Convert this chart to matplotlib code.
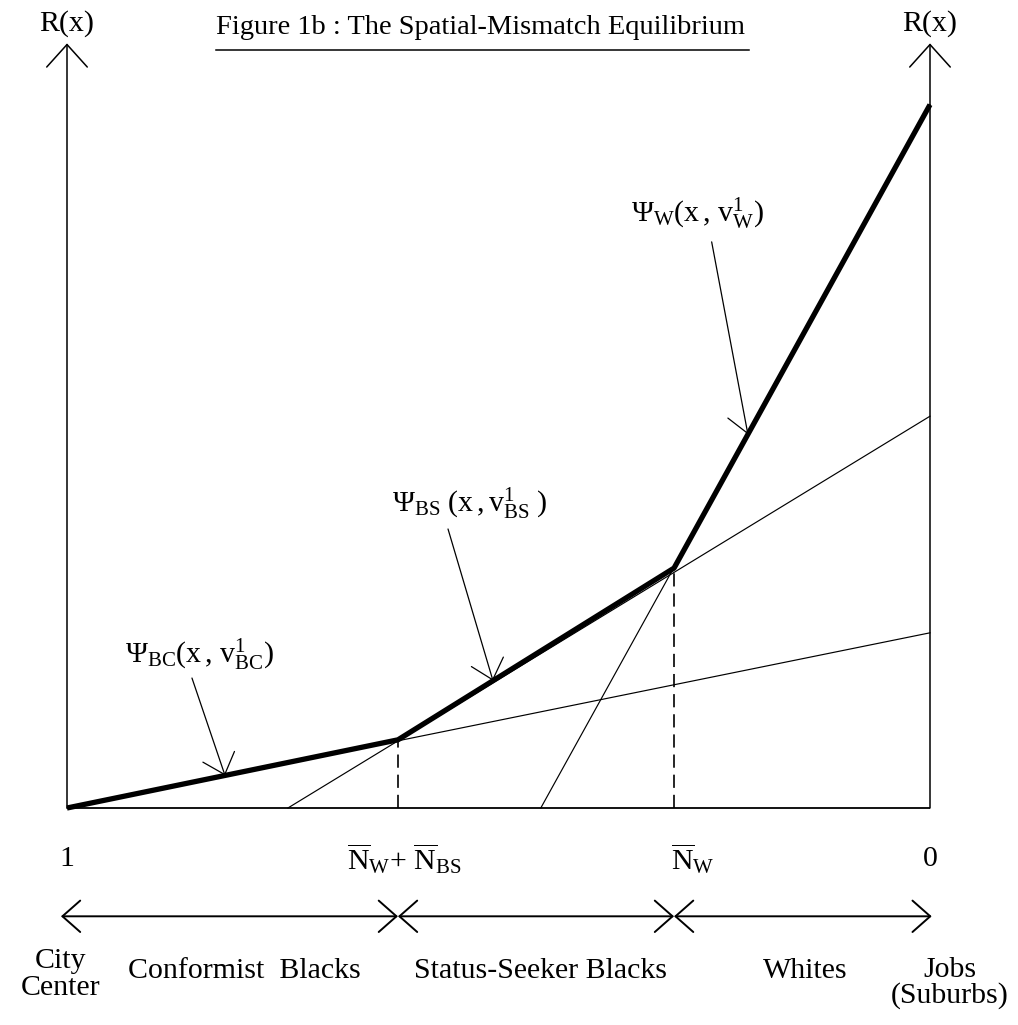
import numpy as np
import matplotlib
matplotlib.use("Agg")
import matplotlib.pyplot as plt

# ---------------- data ----------------
# horizontal position: 0 = city centre (label "1"), 1 = jobs / suburbs (label "0")
bc_x = [0.0, 1.0]          # conformist blacks bid-rent line
bc_R = [0.0, 0.203]
bs_x = [0.256, 1.0]        # status-seeker blacks bid-rent line
bs_R = [0.0, 0.454]
w_x = [0.549, 1.0]         # whites bid-rent line
w_R = [0.0, 0.815]
eq_x = [0.0, 0.3835, 0.7034, 1.0]   # equilibrium land-rent envelope
eq_R = [0.0, 0.079, 0.278, 0.815]

tick_pos = [0.0, 0.3905, 0.7245, 1.0]
tick_labels = ["1",
               r"$\overline{\mathrm{N}}_{\mathrm{W}}$+ $\overline{\mathrm{N}}_{\mathrm{BS}}$",
               r"$\overline{\mathrm{N}}_{\mathrm{W}}$",
               "0"]
region_pos = [0.205, 0.549, 0.855]
region_labels = ["Conformist  Blacks", "Status-Seeker Blacks", "Whites"]
end_labels = ["City\nCenter", "Jobs\n(Suburbs)"]
end_pos = [(-0.008, -0.217), (1.023, -0.226)]
end_spacing = [1.08, 0.95]

curve_labels = [r"$\Psi_{\mathrm{BC}}(\mathrm{x}\,,\,\mathrm{v}^{1}_{\mathrm{BC}})$",
                r"$\Psi_{\mathrm{BS}}\ (\mathrm{x}\,,\mathrm{v}^{1}_{\mathrm{BS}}\ )$",
                r"$\Psi_{\mathrm{W}}(\mathrm{x}\,,\,\mathrm{v}^{1}_{\mathrm{W}})$"]
label_xy = [(0.154, 0.178), (0.467, 0.353), (0.731, 0.689)]
arrow_from = [(0.1448, 0.1506), (0.4415, 0.3233), (0.747, 0.656)]
arrow_to_x = [0.1831, 0.4936, 0.789]

title = "Figure 1b : The Spatial-Mismatch Equilibrium"
axis_label = "R(x)"

# ---------------- style ----------------
plt.rcParams["font.family"] = ["Liberation Serif", "DejaVu Serif"]
plt.rcParams["mathtext.fontset"] = "custom"
plt.rcParams["mathtext.rm"] = "Liberation Serif"
plt.rcParams["mathtext.it"] = "Liberation Serif:italic"
plt.rcParams["mathtext.bf"] = "Liberation Serif:bold"
plt.rcParams["lines.scale_dashes"] = False

fig = plt.figure(figsize=(10.18, 10.25), dpi=100)
ax = fig.add_axes([0, 0, 1, 1])
ax.set_xlim(-67 / 863, 951 / 863)
ax.set_ylim(-217 / 863, 808 / 863)
ax.axis("off")

FS = 21.5
top = 0.886

# axes with open arrow heads
for xa in (0.0, 1.0):
    ax.annotate("", xy=(xa, top), xytext=(xa, 0.0),
                arrowprops=dict(arrowstyle="->,head_length=16.2,head_width=14.6",
                                mutation_scale=1, lw=1.1, color="black",
                                shrinkA=0, shrinkB=0))
    ax.text(xa, 0.9085, axis_label, ha="center", va="center", fontsize=FS)
ax.plot([0, 1], [0, 0], color="black", lw=1.3, solid_capstyle="butt")

# bid-rent lines
for xs, rs in ((bc_x, bc_R), (bs_x, bs_R), (w_x, w_R)):
    ax.plot(xs, rs, color="black", lw=0.85)
# equilibrium envelope
ax.plot(eq_x, eq_R, color="black", lw=3.8, solid_joinstyle="round",
        solid_capstyle="butt")

# dashed verticals at the kinks
for k in (1, 2):
    ax.plot([eq_x[k], eq_x[k]], [0, eq_R[k]], color="black", lw=1.2,
            dashes=(9.5, 5))

# tick labels
for p, t in zip(tick_pos, tick_labels):
    ax.text(p, -0.0591, t, ha="center", va="center", fontsize=FS)

# double-headed arrows for the zones
edges = [eq_x[0] - 0.007, eq_x[1], eq_x[2], eq_x[3] + 0.002]
for a, b in zip(edges[:-1], edges[1:]):
    ax.annotate("", xy=(b, -0.1255), xytext=(a, -0.1255),
                arrowprops=dict(arrowstyle="<->,head_length=12.8,head_width=11.3",
                                mutation_scale=1, lw=1.4, color="black",
                                shrinkA=0, shrinkB=0))

for p, t in zip(region_pos, region_labels):
    ax.text(p, -0.197, t, ha="center", va="baseline", fontsize=FS)
for (px, py), t, ls in zip(end_pos, end_labels, end_spacing):
    ax.text(px, py, t, ha="center", va="baseline", fontsize=FS, linespacing=ls)

# curve labels and pointer arrows
for lab, lxy, af, ax_to in zip(curve_labels, label_xy, arrow_from, arrow_to_x):
    ax.text(lxy[0], lxy[1], lab, ha="center", va="center", fontsize=FS)
    ty = float(np.interp(ax_to, eq_x, eq_R))
    ax.annotate("", xy=(ax_to, ty), xytext=af,
                arrowprops=dict(arrowstyle="->,head_length=13.5,head_width=12",
                                mutation_scale=1, lw=0.9, color="black",
                                shrinkA=0, shrinkB=0))

# title with underline
tt = ax.text(0.4786, 0.904, title, ha="center", va="center", fontsize=20.5)
fig.canvas.draw()
bb = tt.get_window_extent().transformed(ax.transData.inverted())
ax.plot([bb.x0, bb.x1 + 0.005], [0.878, 0.878], color="black", lw=1.1)

fig.savefig("out.png", dpi=100)
